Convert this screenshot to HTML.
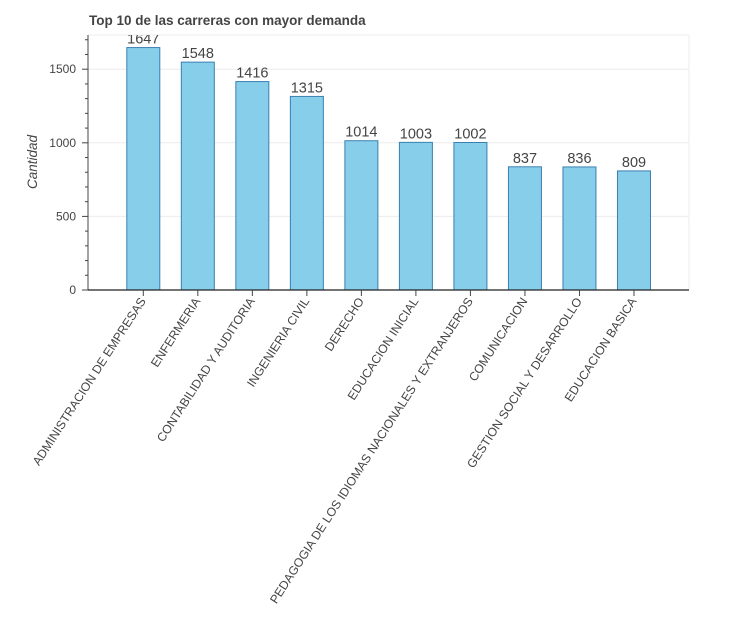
<!DOCTYPE html>
<html><head><meta charset="utf-8">
<style>
body{margin:0;background:#fff;}
svg{display:block;font-family:"Liberation Sans",Arial,sans-serif;}
</style></head>
<body>
<svg id="chart" width="747" height="633" viewBox="0 0 747 633" xmlns="http://www.w3.org/2000/svg">
<defs><clipPath id="plotclip"><rect x="88" y="35" width="601" height="255"/></clipPath></defs>
<text x="89" y="25" font-size="13.5" font-weight="bold" fill="#444">Top 10 de las carreras con mayor demanda</text>
<rect x="88" y="35" width="601" height="255" fill="none" stroke="#ececec" stroke-width="1"/>
<g id="grid"></g>
<g id="bars" clip-path="url(#plotclip)"></g>
<g id="yaxis"></g>
<g id="xaxis"></g>
<text transform="translate(37,162) rotate(-90)" text-anchor="middle" font-size="13.5" font-style="italic" fill="#444">Cantidad</text>
</svg>
<script>
const categories = ["ADMINISTRACION DE EMPRESAS","ENFERMERIA","CONTABILIDAD Y AUDITORIA","INGENIERIA CIVIL","DERECHO","EDUCACION INICIAL","PEDAGOGIA DE LOS IDIOMAS NACIONALES Y EXTRANJEROS","COMUNICACION","GESTION SOCIAL Y DESARROLLO","EDUCACION BASICA"];
const values = [1647,1548,1416,1315,1014,1003,1002,837,836,809];
const yTicks = [0,500,1000,1500];
const yMinor = [100,200,300,400,600,700,800,900,1100,1200,1300,1400,1600,1700];

const NS="http://www.w3.org/2000/svg";
const x0=143.3, step=54.52, bw=33;
function xs(i){return x0+i*step;}
function ys(v){return 290 - v*(73.6/500);}
function mk(tag,attrs,parent){const e=document.createElementNS(NS,tag);for(const k in attrs)e.setAttribute(k,attrs[k]);parent.appendChild(e);return e;}
const grid=document.getElementById('grid'),bars=document.getElementById('bars'),ya=document.getElementById('yaxis'),xa=document.getElementById('xaxis');

yTicks.forEach(t=>{
  if(t>0){const g=mk('line',{x1:88,x2:689,y1:ys(t),y2:ys(t),stroke:'#ececec','stroke-width':1},grid);
  
  }
  const tk=mk('line',{x1:82,x2:88,y1:ys(t),y2:ys(t),stroke:'#444','stroke-width':1},ya);
  
  
  const lb=mk('text',{x:76,y:ys(t)+4,'text-anchor':'end','font-size':12,fill:'#444'},ya);
  lb.textContent=t;
  
  
});
yMinor.forEach(t=>{
  const tk=mk('line',{x1:85,x2:88,y1:ys(t),y2:ys(t),stroke:'#444','stroke-width':1},ya);
  
  
});
const yl=mk('line',{x1:88,x2:88,y1:35,y2:290,stroke:'#444','stroke-width':1},ya);



values.forEach((v,i)=>{
  const r=mk('rect',{x:xs(i)-bw/2,y:ys(v),width:bw,height:290-ys(v),fill:'#87ceeb',stroke:'#3a80b0','stroke-width':1},bars);
  
  
  const t=mk('text',{x:xs(i),y:ys(v)-4,'text-anchor':'middle','font-size':14.5,fill:'#444'},bars);
  t.textContent=v;
  
  
});

const xl=mk('line',{x1:88,x2:689,y1:290,y2:290,stroke:'#222','stroke-width':1.3},xa);


categories.forEach((c,i)=>{
  const tk=mk('line',{x1:xs(i),x2:xs(i),y1:290,y2:296,stroke:'#444','stroke-width':1},xa);
  
  
  const t=mk('text',{transform:'translate('+(xs(i)+3)+',301) rotate(-57)','text-anchor':'end','font-size':12.2,fill:'#444'},xa);
  t.textContent=c;
  
  
});
</script>
</body></html>
